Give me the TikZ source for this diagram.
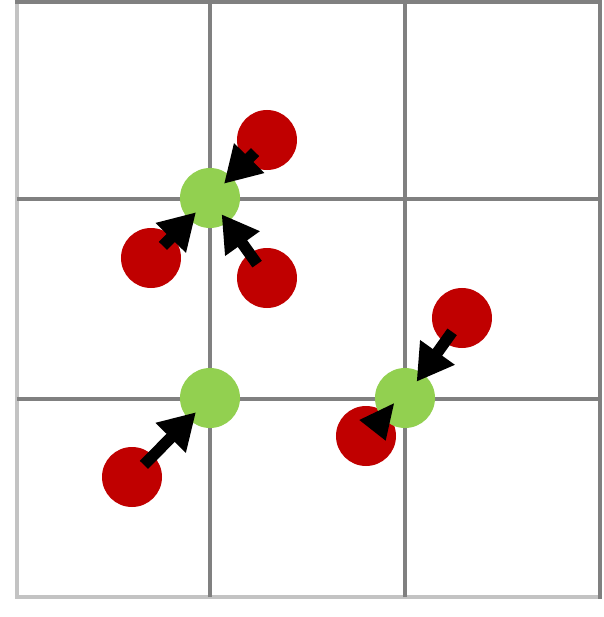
\documentclass[tikz,border=0pt]{standalone}
\usepackage{tikz}
\usetikzlibrary{arrows.meta}
\definecolor{gridgray}{RGB}{128,128,128}
\definecolor{edgegray}{RGB}{195,195,195}
\definecolor{pointred}{RGB}{192,0,0}
\definecolor{centregreen}{RGB}{146,208,80}

\begin{document}
\begin{tikzpicture}[
  pt/.style={circle,fill=pointred,minimum size=0.6cm,inner sep=0pt},
  ctr/.style={circle,fill=centregreen,minimum size=0.6cm,inner sep=0pt},
  gridline/.style={gridgray,line width=0.045cm},
  pull/.style={line width=0.115cm,-{Triangle[width=0.4cm,length=0.36cm]},shorten <=0.17cm,shorten >=0.2cm}]
  \useasboundingbox (0,0) rectangle (6.04,6.17);
  % grid
  \draw[edgegray,line width=0.035cm] (0.17,6.13) -- (0.17,0.2) -- (5.98,0.2);
  \draw[gridline] (0.15,6.15) -- (6.0,6.15) -- (6.0,0.18);
  \foreach \x in {2.10,4.05} \draw[gridline] (\x,0.2) -- (\x,6.15);
  \foreach \y in {2.18,4.18} \draw[gridline] (0.17,\y) -- (6.0,\y);
  % points
  \node[pt] (r1) at (2.67,4.77) {};
  \node[pt] (r2) at (1.51,3.59) {};
  \node[pt] (r3) at (2.67,3.39) {};
  \node[pt] (r4) at (4.62,2.99) {};
  \node[pt] (r5) at (3.66,1.81) {};
  \node[pt] (r6) at (1.32,1.40) {};
  % centres
  \node[ctr] (g1) at (2.10,4.19) {};
  \node[ctr] (g2) at (2.10,2.19) {};
  \node[ctr] (g3) at (4.05,2.19) {};
  % assignment arrows
  \draw[pull] (r1.center) -- (g1.center);
  \draw[pull] (r2.center) -- (g1.center);
  \draw[pull] (r3.center) -- (g1.center);
  \draw[pull] (r6.center) -- (g2.center);
  \draw[pull] (r4.center) -- (g3.center);
  \fill (3.593,1.97) -- (3.94,2.137) -- (3.857,1.763) -- cycle;
\end{tikzpicture}
\end{document}
